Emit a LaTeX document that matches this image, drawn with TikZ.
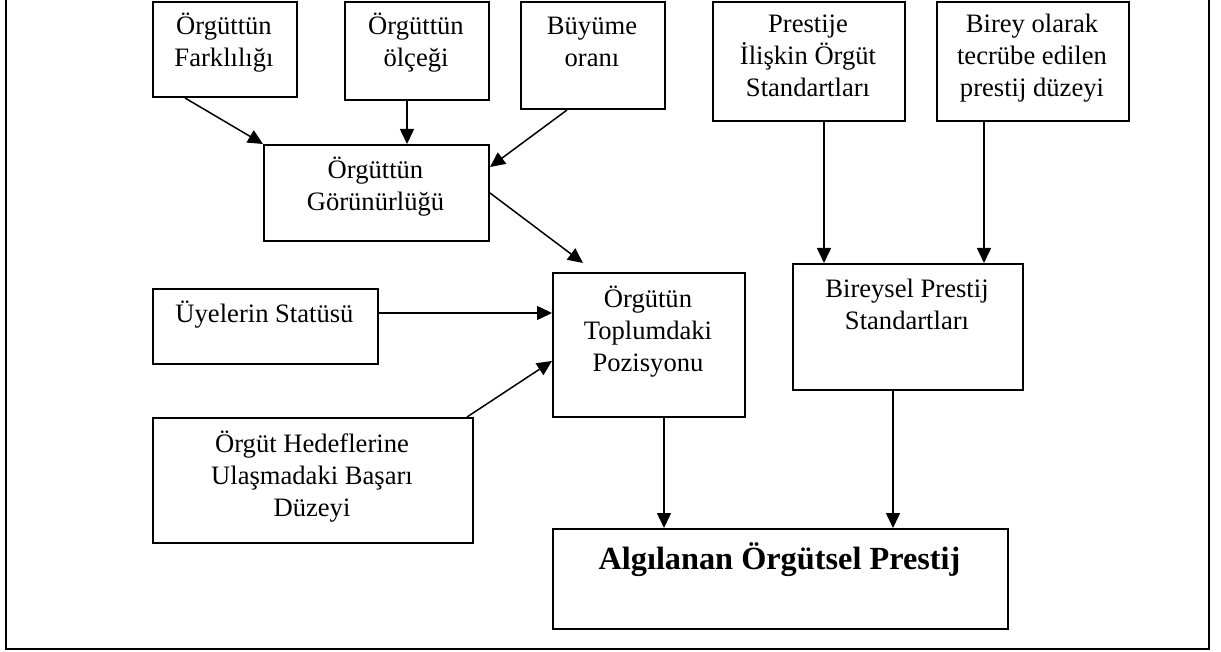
\documentclass[tikz,border=0pt]{standalone}
\usepackage{fontspec}
\setmainfont{Liberation Serif}
\usetikzlibrary{arrows.meta}
\tikzset{
  box/.style={draw, line width=2pt, inner sep=0pt, anchor=north west},
  txt/.style={anchor=base, align=center, inner sep=0pt, font=\fontsize{26.6}{32}\selectfont},
  bigtxt/.style={anchor=base, align=center, inner sep=0pt, font=\fontsize{32.3}{38}\selectfont\bfseries},
  arr/.style={line width=1.5pt, -{Triangle[length=15pt,width=14pt]}},
  frame/.style={line width=1.9pt}
}
\begin{document}
\begin{tikzpicture}[x=1pt,y=-1pt]
\useasboundingbox (0,0) rectangle (1221,652);
\draw[frame] (6,0) -- (6,649) -- (1209,649) -- (1209,0);
% boxes
\node[box, minimum width=144pt, minimum height=95pt] (f1) at (152,1) {};
\node[box, minimum width=144pt, minimum height=98pt] (f2) at (344,1) {};
\node[box, minimum width=144pt, minimum height=107pt] (f3) at (520,1) {};
\node[box, minimum width=192pt, minimum height=119pt] (p1) at (712,1) {};
\node[box, minimum width=192pt, minimum height=119pt] (p2) at (936,1) {};
\node[box, minimum width=225pt, minimum height=96pt] (g) at (263,144) {};
\node[box, minimum width=225pt, minimum height=75pt] (u) at (152,288) {};
\node[box, minimum width=192pt, minimum height=144pt] (t) at (552,272) {};
\node[box, minimum width=230pt, minimum height=126pt] (b) at (792,263) {};
\node[box, minimum width=320pt, minimum height=125pt] (h) at (152,417) {};
\node[box, minimum width=455pt, minimum height=100pt] (a) at (552,528) {};
% texts (anchored at the baseline of their last line)
\node[txt] (tf1) at (224,67) {Örgüttün\\Farklılığı};
\node[txt] (tf2) at (416,67) {Örgüttün\\ölçeği};
\node[txt] (tf3) at (592,67) {Büyüme\\oranı};
\node[txt] (tp1) at (808,97) {Prestije\\İlişkin Örgüt\\Standartları};
\node[txt] (tp2) at (1032,97) {Birey olarak\\tecrübe edilen\\prestij düzeyi};
\node[txt] (tg) at (375.5,211) {Örgüttün\\Görünürlüğü};
\node[txt] (tu) at (264.5,323) {Üyelerin Statüsü};
\node[txt] (tt) at (648,371) {Örgütün\\Toplumdaki\\Pozisyonu};
\node[txt] (tb) at (907,330) {Bireysel Prestij\\Standartları};
\node[txt] (th) at (312,516) {Örgüt Hedeflerine\\Ulaşmadaki Başarı\\Düzeyi};
\node[bigtxt] (ta) at (779.5,569) {Algılanan Örgütsel Prestij};
% connectors
\draw[arr] ([xshift=33pt]f1.south west) -- (g.north west);
\draw[arr] ([xshift=63pt]f2.south west) -- ([xshift=144pt]g.north west);
\draw[arr] ([xshift=47pt]f3.south west) -- ([yshift=-23pt]g.north east);
\draw[arr] (g.east) -- ([xshift=31pt,yshift=9pt]t.north west);
\draw[arr] ([yshift=13.5pt]u.east) coordinate (u1) -- (u1 -| t.west);
\draw[arr] ([xshift=-7pt]h.north east) -- ([yshift=-16pt]t.west);
\draw[arr] ([xshift=112pt]p1.south west) -- ([xshift=32pt]b.north west);
\draw[arr] ([xshift=48pt]p2.south west) -- ([xshift=192pt]b.north west);
\draw[arr] ([xshift=112pt]t.south west) -- ([xshift=112pt]a.north west);
\draw[arr] ([xshift=101pt]b.south west) -- ([xshift=341pt]a.north west);
\end{tikzpicture}
\end{document}
